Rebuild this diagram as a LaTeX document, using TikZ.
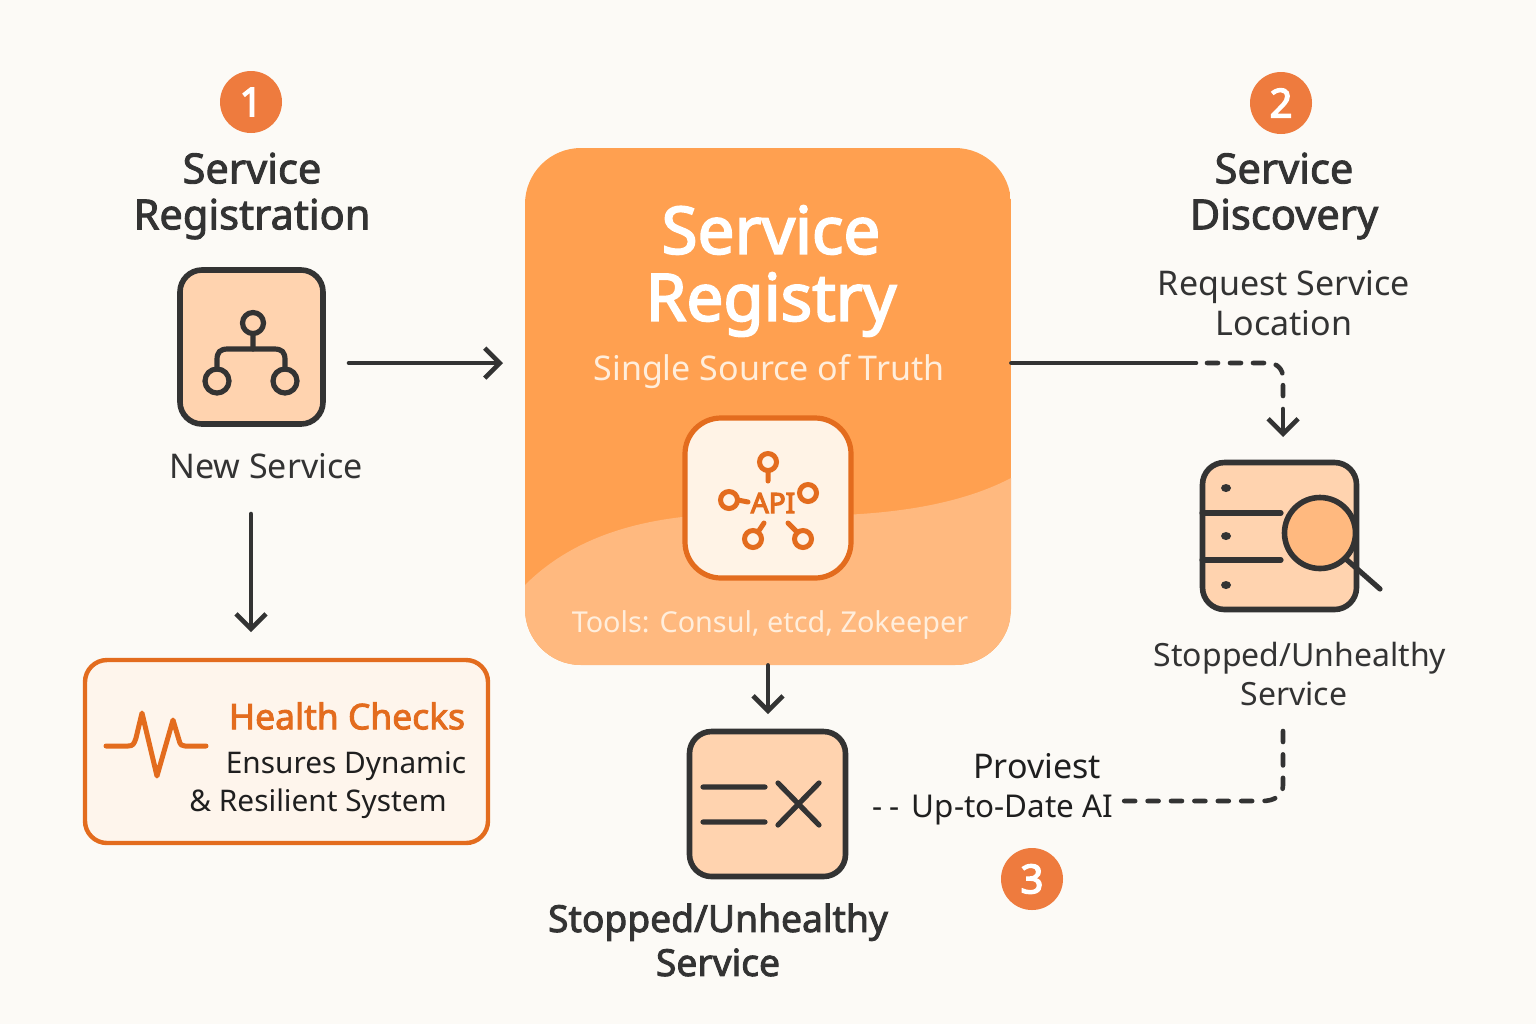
\documentclass[tikz,border=0pt]{standalone}
\usepackage{fontspec}
\setmainfont{Noto Sans}
\usetikzlibrary{arrows.meta,shapes.geometric}
\definecolor{bgc}{HTML}{FCFAF6}
\definecolor{ink}{HTML}{333333}
\definecolor{peach}{HTML}{FFD3AF}
\definecolor{regtop}{HTML}{FFA050}
\definecolor{reglow}{HTML}{FFB97F}
\definecolor{ora}{HTML}{E36C1E}
\definecolor{badge}{HTML}{EE7B3E}
\definecolor{cream}{HTML}{FFF3E6}
\definecolor{soft}{HTML}{FFEEDC}
\definecolor{hfill}{HTML}{FEF5EC}
\newcommand{\strk}[2]{\special{pdf:code 2 Tr #1 w}#2\special{pdf:code 0 Tr 0.4 w}}
\newcommand{\semi}[1]{\strk{0.45}{#1}}
\tikzset{
 x=0.5pt,y=-0.5pt,
 flow/.style={draw=ink,line width=2.3pt,line cap=round,line join=round},
 flowtip/.style={flow,-{Straight Barb[length=7.5pt,width=15pt,line width=2.3pt]}},
 dashflow/.style={flow,dash pattern=on 5.5pt off 6pt},
 iconbox/.style={draw=ink,fill=peach,line width=2.8pt,rounded corners=11pt,inner sep=0pt},
 glyph/.style={draw=ink,line width=2.6pt,line cap=round,line join=round},
 api/.style={draw=ora,line width=2.5pt,line cap=round},
 badgec/.style={circle,fill=badge,text=white,minimum size=31pt,inner sep=0pt,font=\fontsize{20}{22}\selectfont},
 head/.style={align=center,text=ink,inner sep=0pt,font=\fontsize{20.8}{23}\selectfont},
 body/.style={align=center,text=ink,inner sep=0pt,font=\fontsize{17}{19.7}\selectfont},
 blabel/.style={inner sep=0pt,text=black!88,font=\fontsize{14.9}{19}\selectfont},
}
\begin{document}
\begin{tikzpicture}
\useasboundingbox (0,0) rectangle (1536,1024);
\fill[bgc] (0,0) rectangle (1536,1024);

% Registry
\begin{scope}
 \clip[rounded corners=28pt] (525,148) rectangle (1011,665);
 \fill[regtop] (525,148) rectangle (1011,665);
 \fill[reglow] (525,585) .. controls (570,540) and (640,512) .. (750,514)
   .. controls (860,520) and (950,510) .. (1011,478) -- (1011,665) -- (525,665) -- cycle;
\end{scope}
\node[minimum width=243pt,minimum height=258.5pt,inner sep=0pt] (registry) at (768,406.5) {};
\node[inner sep=0pt,align=center,text=white,font=\fontsize{32.8}{33.5}\selectfont] (regtitle) at (771,271) {\strk{0.9}{Service}\\\strk{0.9}{Registry}};
\node[inner sep=0pt,text=soft,font=\fontsize{17}{20}\selectfont] (regsub) at (769,372) {Single Source of Truth};
\node[inner sep=0pt,text=soft,font=\fontsize{14.4}{18}\selectfont] (regtools) at (770,625) {Tools: Consul, etcd, Zokeeper};
\node[draw=ora,fill=cream,line width=2.6pt,rounded corners=18pt,minimum width=83pt,minimum height=80pt,inner sep=0pt] (apibox) at (768,498) {};
\node[inner sep=0pt,text=ora,font=\fontsize{14}{16}\selectfont] (apitext) at (773,503) {\strk{0.6}{API}};
\draw[api] (768,462) circle (8.5) (768,471) -- (768,481);
\draw[api] (729,500) circle (8.5) (738,500) -- (748,502);
\draw[api] (808,493) circle (8.5);
\draw[api] (753,539) circle (8.5) (758,532) -- (764,523);
\draw[api] (803,539) circle (8.5) (797,532) -- (788,523);

% Badges
\node[badgec] (b1) at (251,102) {\strk{0.7}{1}};
\node[badgec] (b2) at (1281,103) {\strk{0.7}{2}};
\node[badgec] (b3) at (1032,879) {\strk{0.7}{3}};

% Left column
\node[head] (reghead) at (252,196) {\semi{Service}\\\semi{Registration}};
\node[iconbox,minimum width=71.5pt,minimum height=77pt] (newsvc) at (251.5,347) {};
\draw[glyph] (253,323) circle (10.5) (253,334) -- (253,349);
\draw[glyph] (217,369) -- (217,360) .. controls (217,352) and (220,349) .. (228,349) -- (274,349) .. controls (282,349) and (285,352) .. (285,360) -- (285,369);
\draw[glyph] (217,381) circle (12) (285,381) circle (12);
\node[body] (newlabel) at (266,466) {New Service};
\coordinate (a1s) at (349,363);
\coordinate (a1e) at (503,363);
\draw[flowtip] (a1s) -- (a1e);
\coordinate (a2s) at (251,514);
\coordinate (a2e) at (251,632);
\draw[flowtip] (a2s) -- (a2e);

% Health box
\node[draw=ora,fill=hfill,line width=2.2pt,rounded corners=11pt,minimum width=201.5pt,minimum height=91.5pt,inner sep=0pt] (health) at (286.5,751.5) {};
\draw[draw=ora,line width=2.5pt,line cap=round,line join=round] (106,746) -- (128,746) .. controls (133,746) and (134,744) .. (136,738) -- (142,713) -- (157,776) -- (173,720) -- (179,740) .. controls (180,745) and (182,746) .. (185,746) -- (206,746);
\node[inner sep=0pt,text=ora,font=\fontsize{17.7}{20}\selectfont] (hctitle) at (347,716) {\semi{Health Checks}};
\node[blabel] (hc1) at (346,766) {Ensures Dynamic};
\node[blabel] (hc2) at (318,804) {\& Resilient System};

% Right column
\node[head] (dischead) at (1284,196) {\semi{Service}\\\semi{Discovery}};
\node[body] (reqlabel) at (1284,303) {Request Service\\Location};
\node[iconbox,minimum width=77pt,minimum height=73.5pt] (server) at (1279.5,536) {};
\draw[glyph] (1202,513) -- (1281,513) (1202,560) -- (1281,560);
\fill[ink] (1226,488) ellipse (5 and 4) (1226,536) ellipse (5 and 4) (1226,585) ellipse (5 and 4);
\draw[glyph] (1347,560) -- (1380,589);
\draw[glyph,line width=2.8pt,fill=reglow] (1320,533) circle (35.5);
\node[body,align=center,font=\fontsize{16}{19.7}\selectfont] (stoplabel) at (1300,674) {Stopped/Unhealthy\\Service\hspace*{6pt}};
\coordinate (d0) at (1196,363);
\coordinate (d0b) at (1207,363);
\coordinate (d1) at (1283,396);
\coordinate (d2) at (1283,437);
\draw[flow] (registry.east |- d0) -- (d0);
\draw[dashflow] (d0b) -- (1268,363) .. controls (1277,363) and (1283,369) .. (1283,378) -- (d1);
\draw[flowtip] (1283,409) -- (d2);

% Bottom
\coordinate (r1) at (768,714);
\draw[flowtip] (registry.south) -- (r1);
\node[iconbox,minimum width=78pt,minimum height=72.5pt] (stopped) at (767.5,804) {};
\draw[glyph] (703,787) -- (765,787) (703,822) -- (765,822) (778,783) -- (819,825) (819,783) -- (778,825);
\node[head,font=\fontsize{18.6}{22}\selectfont] (stop2) at (718,940) {\semi{Stopped/Unhealthy}\\\semi{Service}};
\node[blabel,font=\fontsize{17}{20}\selectfont] (prov) at (1037,766) {Proviest};
\node[blabel,font=\fontsize{15.7}{20}\selectfont] (uptodate) at (993,810) {-\kern3.5pt-\kern6pt Up-to-Date AI};
\coordinate (e0) at (1283,731);
\coordinate (e1) at (1121,801);
\draw[flow,dash pattern=on 5.5pt off 6.2pt] (e0) -- (1283,785) .. controls (1283,796) and (1274,801) .. (1262,801) -- (e1);
\end{tikzpicture}
\end{document}
